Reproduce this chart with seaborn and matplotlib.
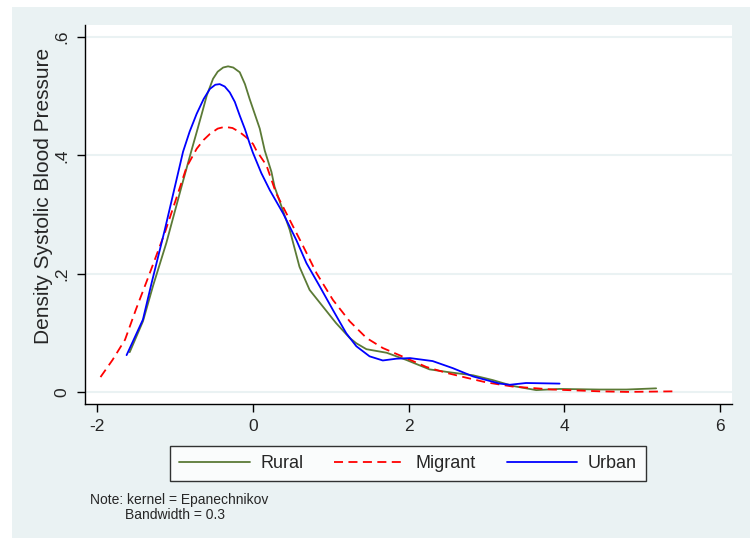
import numpy as np
import pandas as pd
import seaborn as sns
import matplotlib.pyplot as plt
from matplotlib.patches import Rectangle

# values (kernel density curves)
rural_x = [-1.58, -1.41, -1.28, -1.11, -0.915, -0.787, -0.72, -0.65, -0.59, -0.51, -0.45, -0.38,
           -0.317, -0.25, -0.167, -0.10, -0.04, 0.09, 0.154, 0.24, 0.28, 0.475, 0.60, 0.73, 0.90,
           1.07, 1.245, 1.33, 1.46, 1.72, 1.97, 2.27, 2.53, 2.83, 3.08, 3.34, 3.64, 3.94, 4.45,
           4.80, 5.18]
rural_y = [0.068, 0.120, 0.180, 0.252, 0.347, 0.408, 0.439, 0.472, 0.501, 0.529, 0.541, 0.548,
           0.550, 0.548, 0.540, 0.520, 0.495, 0.445, 0.408, 0.372, 0.347, 0.274, 0.212, 0.173, 0.145,
           0.117, 0.092, 0.083, 0.073, 0.067, 0.055, 0.039, 0.034, 0.029, 0.021, 0.011, 0.004, 0.006,
           0.005, 0.005, 0.007]

migrant_x = [-1.955, -1.80, -1.64, -1.50, -1.34, -1.13, -0.96, -0.85, -0.72, -0.63, -0.55, -0.45,
             -0.36, -0.26, -0.167, -0.08, 0.004, 0.047, 0.176, 0.30, 0.475, 0.65, 0.82, 1.03, 1.245,
             1.46, 1.67, 1.97, 2.23, 2.49, 2.74, 3.00, 3.34, 3.85, 4.45, 4.80, 5.44]
migrant_y = [0.026, 0.055, 0.089, 0.140, 0.195, 0.269, 0.336, 0.380, 0.411, 0.426, 0.436, 0.445,
             0.448, 0.446, 0.439, 0.430, 0.419, 0.408, 0.383, 0.336, 0.291, 0.246, 0.201, 0.156, 0.120,
             0.092, 0.075, 0.058, 0.043, 0.033, 0.025, 0.017, 0.010, 0.005, 0.002, 0.001, 0.002]

urban_x = [-1.62, -1.41, -1.30, -1.13, -1.00, -0.895, -0.81, -0.72, -0.63, -0.55, -0.48, -0.424,
           -0.36, -0.295, -0.23, -0.167, -0.10, -0.04, 0.0, 0.11, 0.22, 0.39, 0.56, 0.69, 0.86,
           1.03, 1.20, 1.33, 1.50, 1.67, 1.845, 2.02, 2.31, 2.57, 2.83, 3.17, 3.30, 3.51, 3.94]
urban_y = [0.063, 0.123, 0.184, 0.274, 0.347, 0.406, 0.440, 0.470, 0.495, 0.512, 0.519, 0.520,
           0.516, 0.506, 0.490, 0.467, 0.444, 0.420, 0.405, 0.370, 0.341, 0.302, 0.257, 0.218, 0.179,
           0.139, 0.100, 0.078, 0.061, 0.054, 0.057, 0.058, 0.053, 0.041, 0.027, 0.015, 0.013, 0.016,
           0.015]

x_ticks = [-2, 0, 2, 4, 6]
y_ticks = [0, 0.2, 0.4, 0.6]
y_tick_labels = ['0', '.2', '.4', '.6']

bg = '#EAF2F3'

sns.set_style('white')
plt.rcParams['font.family'] = ['Liberation Sans', 'DejaVu Sans']

fig = plt.figure(figsize=(7.5, 5.39), dpi=100, facecolor='white')
W, H = 750, 539
fig.add_artist(Rectangle((12 / W, 1 - 538 / H), (750 - 12) / W, (538 - 7) / H,
                         transform=fig.transFigure, facecolor=bg, edgecolor='none', zorder=0))

ax = fig.add_axes([85 / W, 1 - 404 / H, 647 / W, 379 / H])
ax.set_facecolor('white')

sns.lineplot(x=rural_x, y=rural_y, ax=ax, color='#5B7A36', lw=1.3, label='Rural',
             sort=False, estimator=None)
sns.lineplot(x=migrant_x, y=migrant_y, ax=ax, color='#FF0000', lw=1.3, label='Migrant',
             linestyle=(0, (5, 3)), sort=False, estimator=None)
sns.lineplot(x=urban_x, y=urban_y, ax=ax, color='#0000FF', lw=1.3, label='Urban',
             sort=False, estimator=None)

ax.set_xlim(-2.154, 6.154)
ax.set_ylim(-0.0194, 0.6197)
ax.set_xticks(x_ticks)
ax.set_xticklabels([str(t) for t in x_ticks])
ax.set_yticks(y_ticks)
ax.set_yticklabels(y_tick_labels, rotation=90, va='center')
ax.tick_params(axis='both', length=6, width=1, color='black', labelsize=12.5, pad=5,
               direction='out', bottom=True, left=True)

ax.yaxis.grid(True, color=bg, lw=1.5)
ax.xaxis.grid(False)
ax.set_axisbelow(True)
for s in ['top', 'right']:
    ax.spines[s].set_visible(False)
for s in ['left', 'bottom']:
    ax.spines[s].set_color('black')
    ax.spines[s].set_linewidth(1)

ax.set_xlabel('')
ax.set_ylabel('Density Systolic Blood Pressure', fontsize=15)
ax.yaxis.set_label_coords(-0.05, 0.55)

handles, labels = ax.get_legend_handles_labels()
if ax.get_legend() is not None:
    ax.get_legend().remove()
leg = fig.legend(handles, labels, loc='upper center', bbox_to_anchor=(408 / W, 1 - 446 / H),
                 ncol=3, fontsize=13, frameon=True, fancybox=False, borderaxespad=0,
                 handlelength=3.9, handletextpad=0.6, columnspacing=1.7, borderpad=0.5)
leg.get_frame().set_edgecolor('black')
leg.get_frame().set_linewidth(1)
leg.get_frame().set_facecolor('white')

fig.text(90 / W, 1 - 493 / H, 'Note: kernel = Epanechnikov', fontsize=10, va='top', ha='left')
fig.text(125 / W, 1 - 508 / H, 'Bandwidth = 0.3', fontsize=10, va='top', ha='left')

fig.savefig('out.png', dpi=100, facecolor='white')
